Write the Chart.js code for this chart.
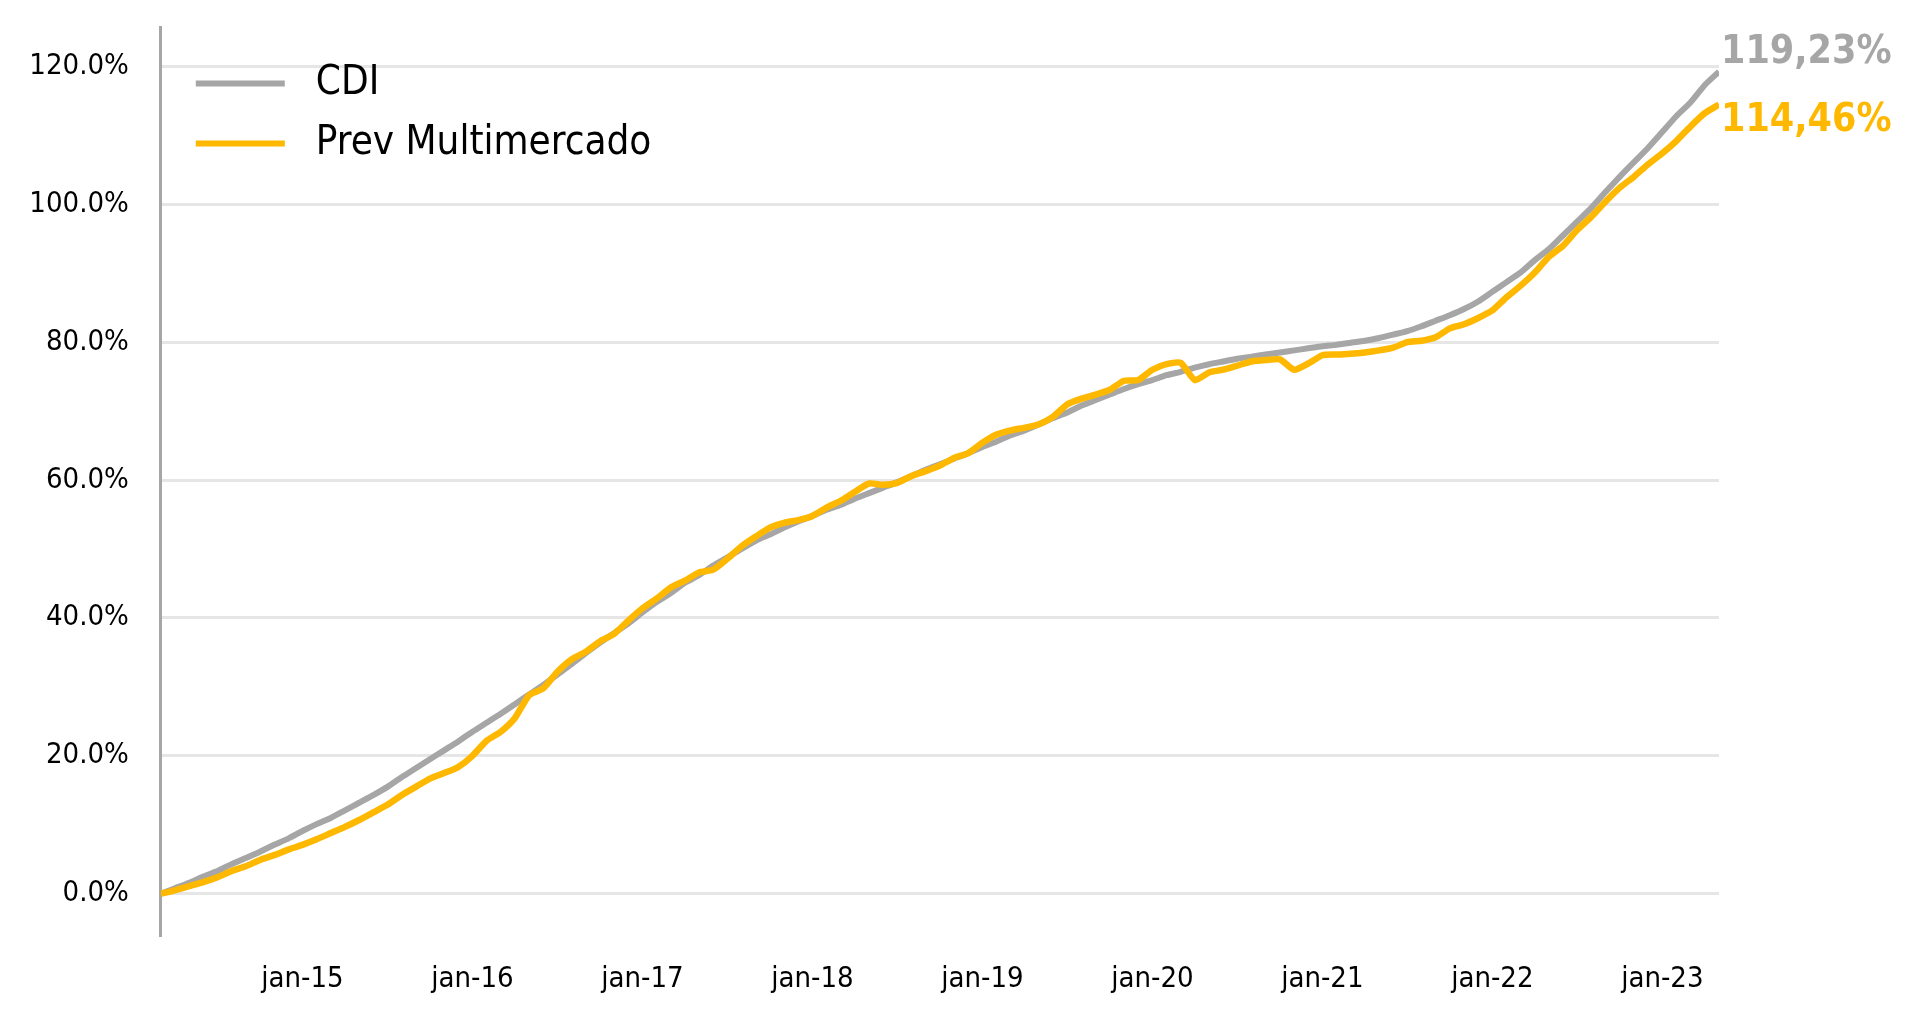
<!DOCTYPE html>
<html><head><meta charset="utf-8">
<script src="https://cdn.jsdelivr.net/npm/chart.js@4"></script>
<style>html,body{margin:0;padding:0;background:#fff;overflow:hidden}#wrap{width:1925px;height:1023px;position:relative}</style>
</head><body><div id="wrap"><canvas id="c" width="1925" height="1023"></canvas></div>
<script>
// month-end observations
const months = [
  '2014-02','2014-03','2014-04','2014-05','2014-06','2014-07','2014-08','2014-09','2014-10','2014-11','2014-12',
  '2015-01','2015-02','2015-03','2015-04','2015-05','2015-06','2015-07','2015-08','2015-09','2015-10','2015-11','2015-12',
  '2016-01','2016-02','2016-03','2016-04','2016-05','2016-06','2016-07','2016-08','2016-09','2016-10','2016-11','2016-12',
  '2017-01','2017-02','2017-03','2017-04','2017-05','2017-06','2017-07','2017-08','2017-09','2017-10','2017-11','2017-12',
  '2018-01','2018-02','2018-03','2018-04','2018-05','2018-06','2018-07','2018-08','2018-09','2018-10','2018-11','2018-12',
  '2019-01','2019-02','2019-03','2019-04','2019-05','2019-06','2019-07','2019-08','2019-09','2019-10','2019-11','2019-12',
  '2020-01','2020-02','2020-03','2020-04','2020-05','2020-06','2020-07','2020-08','2020-09','2020-10','2020-11','2020-12',
  '2021-01','2021-02','2021-03','2021-04','2021-05','2021-06','2021-07','2021-08','2021-09','2021-10','2021-11','2021-12',
  '2022-01','2022-02','2022-03','2022-04','2022-05','2022-06','2022-07','2022-08','2022-09','2022-10','2022-11','2022-12',
  '2023-01','2023-02','2023-03','2023-04'
];
const cdi = [
  0, 0.8, 1.6, 2.5, 3.3, 4.3, 5.2, 6.1, 7.1, 8.0, 9.1,
  10.1, 11.0, 12.1, 13.2, 14.3, 15.5, 16.9, 18.2, 19.5, 20.8, 22.1, 23.5,
  24.8, 26.1, 27.5, 28.9, 30.3, 31.8, 33.3, 34.9, 36.4, 37.8, 39.2, 40.8,
  42.3, 43.6, 45.1, 46.2, 47.6, 48.8, 50.0, 51.2, 52.1, 53.1, 54.0, 54.8,
  55.7, 56.4, 57.3, 58.1, 58.9, 59.7, 60.6, 61.5, 62.3, 63.1, 63.9, 64.8,
  65.6, 66.5, 67.2, 68.1, 69.0, 69.8, 70.8, 71.6, 72.4, 73.2, 73.9, 74.5,
  75.2, 75.7, 76.3, 76.8, 77.2, 77.6, 77.9, 78.2, 78.5, 78.8, 79.1, 79.4,
  79.6, 79.9, 80.2, 80.6, 81.1, 81.6, 82.3, 83.1, 83.9, 84.8, 85.9, 87.3,
  88.7, 90.1, 91.9, 93.5, 95.5, 97.5, 99.5, 101.8, 104.0, 106.1, 108.2, 110.5,
  112.8, 114.8, 117.3, 119.23
];
const prevMulti = [
  0, 0.5, 1.1, 1.7, 2.4, 3.3, 4.0, 4.9, 5.6, 6.4, 7.1,
  7.9, 8.8, 9.7, 10.7, 11.8, 12.9, 14.3, 15.5, 16.7, 17.5, 18.4, 20.0,
  22.2, 23.5, 25.5, 28.8, 29.8, 32.2, 34.0, 35.1, 36.6, 37.7, 39.6, 41.4,
  42.8, 44.4, 45.4, 46.6, 47.0, 48.6, 50.4, 51.8, 53.1, 53.8, 54.2, 54.8,
  56.0, 57.0, 58.3, 59.5, 59.3, 59.6, 60.6, 61.3, 62.1, 63.2, 63.9, 65.4,
  66.6, 67.2, 67.6, 68.1, 69.2, 71.0, 71.8, 72.4, 73.1, 74.4, 74.5, 76.0,
  76.8, 77.0, 74.5, 75.6, 76.0, 76.6, 77.2, 77.4, 77.5, 76.0, 76.9, 78.1,
  78.2, 78.3, 78.5, 78.8, 79.2, 80.0, 80.2, 80.7, 82.0, 82.6, 83.5, 84.6,
  86.5, 88.2, 90.1, 92.4, 94.0, 96.3, 98.2, 100.4, 102.4, 104.0, 105.8, 107.4,
  109.2, 111.3, 113.2, 114.46
];
const seriesNames = ['CDI', 'Prev Multimercado'];
const endLabels = ['119,23%', '114,46%'];
const yTickValues = [0, 20, 40, 60, 80, 100, 120];
const xTickLabels = ['jan-15','jan-16','jan-17','jan-18','jan-19','jan-20','jan-21','jan-22','jan-23'];

const GRAY = '#A6A6A6', YELLOW = '#FFB800';
const FONT = '"DejaVu Sans Condensed", "DejaVu Sans", Verdana, sans-serif';

// month-end -> months since 2014-01-01
const monthPos = s => (parseInt(s.slice(0,4)) - 2014) * 12 + parseInt(s.slice(5,7));
const xTickPos = xTickLabels.map(l => (2000 + parseInt(l.slice(4)) - 2014) * 12);
const toPts = arr => arr.map((v, i) => ({x: monthPos(months[i]), y: v}));

const endLabelPlugin = {
  id: 'endLabels',
  afterDatasetsDraw(chart) {
    const ctx = chart.ctx;
    const offsets = [-19, 16];
    chart.data.datasets.forEach((ds, i) => {
      const meta = chart.getDatasetMeta(i);
      const last = meta.data[meta.data.length - 1];
      ctx.save();
      ctx.font = 'bold 39px ' + FONT;
      ctx.fillStyle = ds.borderColor;
      ctx.textAlign = 'left';
      ctx.textBaseline = 'middle';
      ctx.fillText(endLabels[i], chart.chartArea.right + 2, last.y + offsets[i]);
      ctx.restore();
    });
  }
};
const legendPlugin = {
  id: 'inLegend',
  afterDraw(chart) {
    const ctx = chart.ctx;
    const ca = chart.chartArea;
    const rows = [56.5, 116.5];
    chart.data.datasets.forEach((ds, i) => {
      const y = ca.top + rows[i];
      ctx.save();
      ctx.strokeStyle = ds.borderColor;
      ctx.lineWidth = 6;
      ctx.beginPath();
      ctx.moveTo(ca.left + 35, y);
      ctx.lineTo(ca.left + 124, y);
      ctx.stroke();
      ctx.font = '40px ' + FONT;
      ctx.fillStyle = '#000';
      ctx.textAlign = 'left';
      ctx.textBaseline = 'middle';
      ctx.fillText(seriesNames[i], ca.left + 155, y);
      ctx.restore();
    });
  }
};

new Chart(document.getElementById('c'), {
  type: 'line',
  data: {
    datasets: [
      {label: seriesNames[0], data: toPts(cdi), borderColor: GRAY, backgroundColor: GRAY, borderWidth: 6, pointRadius: 0, tension: 0.2, order: 1},
      {label: seriesNames[1], data: toPts(prevMulti), borderColor: YELLOW, backgroundColor: YELLOW, borderWidth: 6.5, pointRadius: 0, tension: 0.2, order: 0}
    ]
  },
  plugins: [endLabelPlugin, legendPlugin],
  options: {
    responsive: false,
    animation: false,
    devicePixelRatio: 1,
    layout: {padding: {left: 0, right: 206, top: 27, bottom: 0}},
    plugins: {legend: {display: false}, tooltip: {enabled: false}},
    scales: {
      x: {
        type: 'linear',
        min: monthPos(months[0]),
        max: monthPos(months[months.length - 1]),
        afterBuildTicks: s => { s.ticks = xTickPos.map(v => ({value: v})); },
        afterFit: s => { s.height = 87.5; s.paddingLeft = 0; s.paddingRight = 0; },
        grid: {display: false, drawTicks: false},
        border: {display: false},
        ticks: {
          autoSkip: false, maxRotation: 0, padding: 27,
          color: '#000', font: {family: FONT, size: 29},
          callback: v => xTickLabels[xTickPos.indexOf(v)]
        }
      },
      y: {
        min: -6.05,
        max: 125.7,
        afterBuildTicks: s => { s.ticks = yTickValues.map(v => ({value: v})); },
        afterFit: s => { s.width = 160.8; s.paddingTop = 0; s.paddingBottom = 0; },
        grid: {color: '#E6E6E6', lineWidth: 3, drawTicks: false},
        border: {display: true, color: GRAY, width: 3},
        ticks: {
          padding: 32, color: '#000', font: {family: FONT, size: 29},
          callback: v => v.toFixed(1) + '%'
        }
      }
    }
  }
});
</script></body></html>
